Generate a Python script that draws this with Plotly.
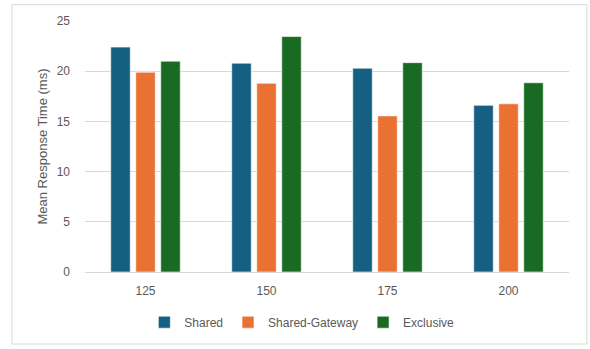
import plotly.graph_objects as go

categories = ["125", "150", "175", "200"]
shared = [22.4, 20.8, 20.3, 16.6]
shared_gateway = [19.9, 18.8, 15.55, 16.75]
exclusive = [21.0, 23.45, 20.85, 18.85]
y_ticks = [0, 5, 10, 15, 20, 25]

series = [
    ("Shared", shared, "#156082"),
    ("Shared-Gateway", shared_gateway, "#E97132"),
    ("Exclusive", exclusive, "#196B24"),
]

fig = go.Figure()
for name, vals, color in series:
    fig.add_trace(go.Bar(
        x=categories, y=vals, name=name,
        marker=dict(color=color, line=dict(color="rgba(255,255,255,0.6)", width=1)),
    ))

font_fam = "Liberation Sans, Arial, sans-serif"
fig.update_layout(
    width=590, height=349,
    margin=dict(l=85, r=21, t=21, b=74),
    paper_bgcolor="white", plot_bgcolor="white",
    barmode="group", bargap=0.38, bargroupgap=0.22,
    font=dict(family=font_fam, size=12, color="#595959"),
    showlegend=True,
    legend=dict(orientation="h", x=0.448, xanchor="center", y=-0.2, yanchor="middle",
                font=dict(size=12, color="#595959"), itemwidth=30,
                traceorder="normal"),
    xaxis=dict(type="category", showgrid=False, showline=False, ticks="", automargin=False,
               tickfont=dict(size=12, color="#595959"), ticklabelstandoff=10),
    yaxis=dict(range=[0, 25], tickvals=y_ticks, showgrid=True, gridcolor="#D9D9D9",
               gridwidth=1, zeroline=True, zerolinecolor="#D9D9D9", zerolinewidth=1,
               showline=False, ticks="", ticklabelstandoff=14, automargin=False,
               tickfont=dict(size=12, color="#595959"),
               title=dict(text="Mean Response Time (ms)", font=dict(size=13, color="#595959"),
                          standoff=6)),
    shapes=[dict(type="rect", xref="paper", yref="paper",
                 x0=-0.151, x1=1.037, y0=-0.287, y1=1.065,
                 line=dict(color="#D9D9D9", width=1), fillcolor="rgba(0,0,0,0)",
                 layer="below")],
)

fig.write_html("out.html")
